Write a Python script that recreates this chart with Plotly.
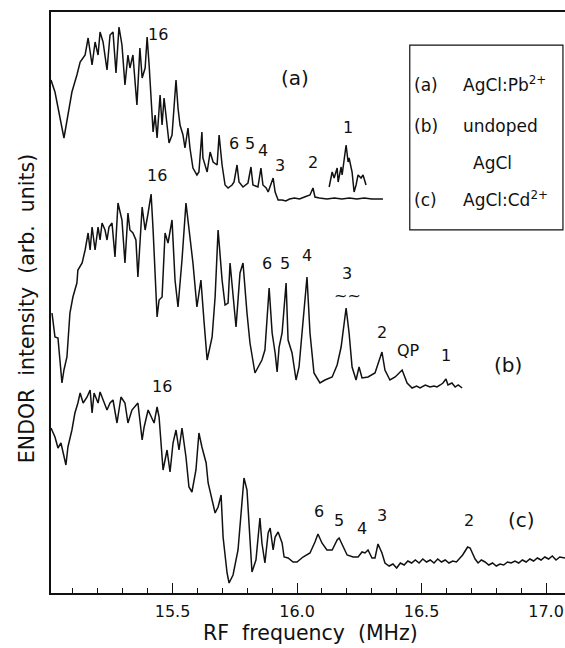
import plotly.graph_objects as go

# ---- spectrum (a) AgCl:Pb2+ ----
a_freq = [15.012, 15.028, 15.064, 15.096, 15.116, 15.129, 15.149, 15.161, 15.177, 15.189,
          15.201, 15.209, 15.221, 15.237, 15.249, 15.261, 15.273, 15.285, 15.297, 15.309,
          15.321, 15.329, 15.341, 15.357, 15.369, 15.378, 15.390, 15.398, 15.406, 15.418,
          15.422, 15.430, 15.438, 15.450, 15.458, 15.466, 15.486, 15.498, 15.514, 15.522,
          15.530, 15.542, 15.550, 15.562, 15.570, 15.582, 15.598, 15.606, 15.618, 15.622,
          15.639, 15.651, 15.663, 15.679, 15.687, 15.699, 15.711, 15.723, 15.739, 15.747,
          15.759, 15.767, 15.783, 15.803, 15.815, 15.823, 15.843, 15.855, 15.863, 15.876,
          15.884, 15.904, 15.912, 15.924, 15.940, 15.955, 15.970, 15.990, 16.010, 16.030,
          16.052, 16.064, 16.072, 16.090, 16.120, 16.150, 16.180, 16.210, 16.240, 16.270,
          16.300, 16.345]
a_int = [513, 501, 455, 501, 518, 531, 538, 555, 528, 551,
         538, 561, 551, 523, 558, 561, 520, 566, 548, 508,
         538, 525, 538, 488, 545, 515, 525, 556, 528, 481,
         461, 478, 455, 498, 468, 495, 450, 458, 513, 485,
         468, 458, 445, 465, 445, 425, 418, 421, 461, 435,
         421, 441, 431, 428, 458, 428, 408, 405, 408, 411,
         428, 411, 406, 410, 426, 408, 406, 425, 408, 405,
         401, 415, 401, 393, 393, 392, 394, 395, 394, 396,
         398, 405, 396, 395, 394, 395, 394, 395, 394, 395,
         394, 394]

# high-gain inset of line 1 in spectrum (a)
a1_freq = [16.129, 16.141, 16.149, 16.161, 16.165, 16.177, 16.181, 16.189, 16.197,
           16.205, 16.209, 16.221, 16.229, 16.237, 16.245, 16.257, 16.265, 16.277]
a1_int = [406, 421, 415, 425, 411, 426, 418, 431, 448,
          431, 435, 421, 401, 408, 418, 415, 418, 408]

# ---- spectrum (b) undoped AgCl ----
b_freq = [15.016, 15.028, 15.040, 15.048, 15.056, 15.064, 15.076, 15.088, 15.100, 15.116,
          15.120, 15.137, 15.149, 15.161, 15.169, 15.177, 15.189, 15.201, 15.209, 15.217,
          15.229, 15.237, 15.245, 15.257, 15.269, 15.281, 15.297, 15.309, 15.321, 15.329,
          15.341, 15.353, 15.361, 15.378, 15.390, 15.402, 15.414, 15.422, 15.438, 15.446,
          15.458, 15.470, 15.482, 15.498, 15.510, 15.522, 15.538, 15.554, 15.566, 15.582,
          15.598, 15.614, 15.627, 15.639, 15.659, 15.671, 15.683, 15.699, 15.711, 15.723,
          15.731, 15.755, 15.771, 15.783, 15.799, 15.811, 15.831, 15.843, 15.859, 15.871,
          15.888, 15.900, 15.912, 15.920, 15.928, 15.940, 15.956, 15.964, 15.980, 15.996,
          16.008, 16.020, 16.040, 16.052, 16.068, 16.092, 16.112, 16.141, 16.161, 16.177,
          16.197, 16.209, 16.221, 16.237, 16.249, 16.261, 16.285, 16.313, 16.341, 16.353,
          16.373, 16.394, 16.422, 16.442, 16.462, 16.480, 16.494, 16.515, 16.534, 16.550,
          16.562, 16.575, 16.586, 16.598, 16.606, 16.622, 16.635, 16.647, 16.663]
b_int = [280, 256, 255, 230, 210, 223, 236, 280, 296, 310,
         323, 330, 343, 360, 343, 366, 343, 366, 353, 370,
         363, 353, 366, 370, 336, 390, 373, 330, 380, 363,
         360, 353, 316, 386, 363, 380, 399, 363, 276, 293,
         296, 360, 350, 373, 313, 286, 333, 390, 363, 330,
         286, 313, 270, 233, 256, 296, 363, 313, 288, 290,
         330, 266, 320, 330, 280, 250, 220, 226, 233, 243,
         305, 260, 240, 221, 246, 260, 310, 253, 240, 213,
         226, 260, 316, 260, 220, 210, 213, 216, 228, 246,
         285, 260, 226, 213, 226, 215, 216, 220, 241, 223,
         213, 216, 223, 210, 205, 207, 205, 208, 206, 207,
         206, 208, 210, 214, 208, 210, 206, 208, 205]

# ---- spectrum (c) AgCl:Cd2+ ----
c_freq = [15.012, 15.028, 15.040, 15.052, 15.072, 15.080, 15.096, 15.108, 15.120, 15.129,
          15.141, 15.157, 15.169, 15.177, 15.185, 15.201, 15.209, 15.221, 15.237, 15.249,
          15.261, 15.277, 15.293, 15.309, 15.321, 15.337, 15.361, 15.378, 15.386, 15.402,
          15.418, 15.426, 15.438, 15.446, 15.462, 15.478, 15.490, 15.502, 15.514, 15.526,
          15.538, 15.554, 15.566, 15.578, 15.594, 15.606, 15.618, 15.635, 15.643, 15.659,
          15.671, 15.683, 15.695, 15.703, 15.719, 15.727, 15.743, 15.763, 15.779, 15.787,
          15.799, 15.811, 15.819, 15.835, 15.851, 15.859, 15.871, 15.884, 15.892, 15.904,
          15.912, 15.924, 15.940, 15.948, 15.964, 15.984, 16.000, 16.024, 16.052, 16.072,
          16.084, 16.100, 16.120, 16.141, 16.161, 16.169, 16.185, 16.201, 16.225, 16.245,
          16.261, 16.273, 16.285, 16.301, 16.313, 16.325, 16.341, 16.353, 16.370, 16.385,
          16.400, 16.415, 16.430, 16.445, 16.460, 16.475, 16.490, 16.505, 16.520, 16.535,
          16.550, 16.565, 16.580, 16.595, 16.610, 16.625, 16.640, 16.655, 16.665, 16.675,
          16.685, 16.695, 16.705, 16.715, 16.727, 16.740, 16.755, 16.770, 16.785, 16.800,
          16.815, 16.830, 16.845, 16.860, 16.875, 16.890, 16.905, 16.920, 16.935, 16.950,
          16.965, 16.980, 16.995, 17.010, 17.025, 17.040, 17.055, 17.076]
c_int = [165, 156, 145, 150, 128, 146, 163, 180, 190, 200,
         190, 196, 203, 180, 200, 190, 201, 193, 183, 190,
         193, 170, 196, 190, 170, 183, 190, 153, 166, 183,
         173, 170, 186, 176, 123, 143, 121, 150, 163, 143,
         165, 136, 106, 101, 123, 160, 146, 130, 110, 93,
         80, 86, 98, 56, 20, 10, 18, 43, 86, 115,
         103, 53, 21, 33, 75, 50, 30, 60, 65, 43,
         56, 61, 50, 36, 35, 31, 31, 36, 40, 51,
         59, 50, 43, 43, 53, 55, 46, 38, 36, 36,
         41, 40, 43, 35, 35, 49, 40, 30, 27, 29,
         25, 30, 28, 32, 30, 33, 30, 34, 31, 33,
         30, 34, 31, 33, 30, 32, 31, 35, 38, 42,
         46, 45, 40, 34, 30, 33, 31, 28, 30, 27,
         29, 28, 31, 30, 32, 30, 33, 31, 34, 32,
         35, 33, 36, 34, 37, 33, 36, 35]

# ---- peak labels: (text, freq, intensity) ----
lbl_text = ["16", "6", "5", "4", "3", "2", "1", "(a)",
            "16", "6", "5", "4", "3", "~~", "2", "QP", "1", "(b)",
            "16", "6", "5", "4", "3", "2", "(c)"]
lbl_freq = [15.442, 15.747, 15.811, 15.863, 15.932, 16.064, 16.205, 15.992,
            15.438, 15.880, 15.952, 16.040, 16.201, 16.201, 16.341, 16.446, 16.598, 16.847,
            15.458, 16.088, 16.169, 16.261, 16.341, 16.691, 16.900]
lbl_int = [559, 450, 450, 443, 428, 431, 466, 515,
           418, 330, 330, 338, 320, 298, 261, 243, 238, 228,
           207, 82, 73, 65, 78, 73, 73]

tick_vals = [15.5, 16.0, 16.5, 17.0]
tick_text = ["15.5", "16.0", "16.5", "17.0"]

FONT = "DejaVu Sans"
INK = "#111111"

fig = go.Figure()
line = dict(color=INK, width=1.5)
for xs, ys in [(a_freq, a_int), (a1_freq, a1_int), (b_freq, b_int), (c_freq, c_int)]:
    fig.add_trace(go.Scatter(x=xs, y=ys, mode="lines", line=line, showlegend=False,
                             hoverinfo="skip"))

for t, fx, fy in zip(lbl_text, lbl_freq, lbl_int):
    big = t.startswith("(")
    fig.add_annotation(x=fx, y=fy, text=t, showarrow=False, xanchor="center",
                       yanchor="middle",
                       font=dict(family=FONT, size=20 if big else 16, color=INK))

# legend box
fig.add_shape(type="rect", xref="paper", yref="paper", x0=0.698, x1=0.996,
              y0=0.625, y1=0.943, line=dict(color=INK, width=1.2))
leg_items = [("(a)", 0.702, 0.874), ("AgCl:Pb<sup>2+</sup>", 0.797, 0.876),
             ("(b)", 0.702, 0.804), ("undoped", 0.797, 0.804),
             ("AgCl", 0.818, 0.740),
             ("(c)", 0.702, 0.676), ("AgCl:Cd<sup>2+</sup>", 0.797, 0.678)]
for t, px, py in leg_items:
    fig.add_annotation(xref="paper", yref="paper", x=px, y=py, text=t, showarrow=False,
                       xanchor="left", yanchor="middle",
                       font=dict(family=FONT, size=17, color=INK))

# axis titles
fig.add_annotation(xref="paper", yref="paper", x=0.505, y=-0.069,
                   text="RF\u00a0 frequency\u00a0\u00a0(MHz)", showarrow=False,
                   xanchor="center", yanchor="middle",
                   font=dict(family=FONT, size=20.5, color=INK))
fig.add_annotation(xref="paper", yref="paper", x=-0.047, y=0.49,
                   text="ENDOR\u00a0 intensity\u00a0 (arb.\u00a0 units)", showarrow=False,
                   textangle=-90, xanchor="center", yanchor="middle",
                   font=dict(family=FONT, size=20.5, color=INK))

fig.update_layout(
    width=565, height=648,
    margin=dict(l=51, r=0, t=12, b=55, autoexpand=False),
    paper_bgcolor="white", plot_bgcolor="white",
    xaxis=dict(range=[15.012, 17.076], showgrid=False, zeroline=False, automargin=False,
               showline=True, linecolor=INK, linewidth=1.5, mirror=True,
               ticks="inside", ticklen=10, tickwidth=1.2, tickcolor=INK,
               tickvals=tick_vals, ticktext=tick_text, ticklabelstandoff=3,
               tickfont=dict(family=FONT, size=16, color=INK),
               minor=dict(dtick=0.1, tick0=15.0, ticks="inside", ticklen=5,
                          tickwidth=1, tickcolor=INK, showgrid=False)),
    yaxis=dict(range=[0, 581], showgrid=False, zeroline=False, showticklabels=False,
               automargin=False,
               showline=True, linecolor=INK, linewidth=1.5, ticks=""),
)

# place the figure at the page origin (no default body margin, no scrollbars)
fig.write_html("out.html", config={"displayModeBar": False},
               post_script="document.body.style.margin='0';"
                           "document.body.style.overflow='hidden';")
